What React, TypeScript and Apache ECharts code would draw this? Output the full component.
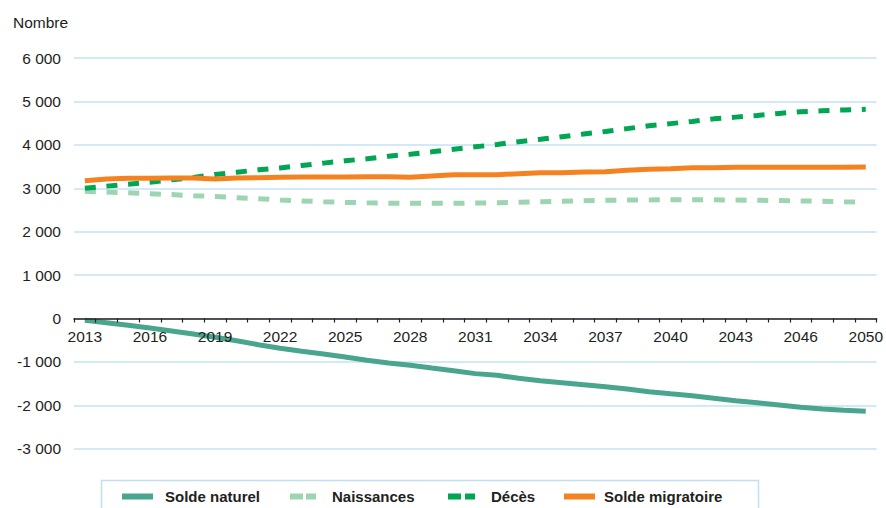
import React, { useEffect, useRef } from "react";
import * as echarts from "echarts";

const years = [
  "2013", "2014", "2015", "2016", "2017", "2018", "2019", "2020", "2021", "2022", "2023", "2024",
  "2025", "2026", "2027", "2028", "2029", "2030", "2031", "2032", "2033", "2034", "2035", "2036",
  "2037", "2038", "2039", "2040", "2041", "2042", "2043", "2044", "2045", "2046", "2047", "2048",
  "2050",
];

const soldeNaturel = [
  -40, -97, -157, -219, -288, -357, -433, -511, -603, -687, -756, -818,
  -887, -963, -1025, -1078, -1141, -1203, -1270, -1309, -1378, -1433, -1479, -1525,
  -1571, -1624, -1686, -1733, -1779, -1839, -1894, -1940, -1993, -2046, -2085, -2115,
  -2138,
];

const naissances = [
  2930, 2915, 2895, 2875, 2855, 2830, 2810, 2785, 2760, 2730, 2710, 2690,
  2675, 2665, 2658, 2654, 2654, 2655, 2660, 2668, 2676, 2690, 2700, 2712,
  2722, 2728, 2732, 2736, 2737, 2735, 2730, 2724, 2718, 2710, 2700, 2690,
  2682,
];

const deces = [
  3000, 3050, 3095, 3140, 3195, 3250, 3320, 3370, 3425, 3470, 3525, 3580,
  3635, 3680, 3740, 3785, 3840, 3900, 3955, 4010, 4075, 4130, 4190, 4250,
  4310, 4375, 4440, 4490, 4540, 4600, 4640, 4680, 4725, 4765, 4785, 4805,
  4820,
];

const soldeMigratoire = [
  3175, 3214, 3230, 3230, 3237, 3237, 3214, 3237, 3245, 3253, 3260, 3260,
  3260, 3267, 3267, 3253, 3283, 3313, 3313, 3313, 3336, 3359, 3359, 3375,
  3383, 3415, 3438, 3452, 3475, 3475, 3484, 3484, 3484, 3484, 3484, 3484,
  3491,
];

const seriesNames = ["Solde naturel", "Naissances", "Décès", "Solde migratoire"];

const FONT = "'Liberation Sans', Arial, Helvetica, sans-serif";
const TXT = "#231f20";
const C_NAT = "#4aa58f";
const C_NAI = "#9dd4b1";
const C_DEC = "#00a651";
const C_MIG = "#f58220";

function fmt(v: number): string {
  const s = Math.abs(v).toString().replace(/\B(?=(\d{3})+(?!\d))/g, " ");
  return (v < 0 ? "-" : "") + s;
}

export default function App() {
  const ref = useRef<HTMLDivElement>(null);
  useEffect(() => {
    if (!ref.current) return;
    const chart = echarts.init(ref.current, undefined, { renderer: "svg" });
    const legendText = { fontFamily: FONT, fontSize: 15, fontWeight: "bold" as const, color: TXT };
    const mkLegend = (name: string, left: number, w: number, pad: number, icon: string) => ({
      data: [{ name, icon }],
      left,
      top: 489,
      padding: 0,
      itemWidth: w,
      itemHeight: 6,
      symbolKeepAspect: false,
      textStyle: { ...legendText, padding: [0, 0, 0, pad] },
    });
    chart.setOption({
      animation: false,
      backgroundColor: "#ffffff",
      textStyle: { fontFamily: FONT },
      grid: { left: 74, right: 8.3, top: 58.1, bottom: 59.3, containLabel: false },
      legend: [
        mkLegend(seriesNames[0], 122, 31, 7, "rect"),
        mkLegend(seriesNames[1], 290, 26, 11, "path://M0,0H13V6H0Z M16,0H26V6H16Z"),
        mkLegend(seriesNames[2], 448, 27, 11, "path://M0,0H13V6H0Z M17,0H27V6H17Z"),
        mkLegend(seriesNames[3], 564, 31, 4, "rect"),
      ],
      graphic: [
        {
          type: "rect",
          shape: { x: 101.5, y: 480.5, width: 657, height: 40 },
          style: { fill: "none", stroke: "#bfe0f2", lineWidth: 1.5 },
          silent: true,
        },
      ],
      xAxis: {
        type: "category",
        data: years,
        boundaryGap: true,
        z: 5,
        offset: -130.2,
        axisLine: { onZero: false, lineStyle: { color: TXT, width: 1.5 } },
        axisTick: { show: true, interval: 0, length: 4, lineStyle: { color: TXT, width: 1.2 } },
        axisLabel: {
          interval: 2,
          margin: 10,
          fontFamily: FONT,
          fontSize: 15.5,
          color: TXT,
        },
        splitLine: { show: false },
      },
      yAxis: {
        type: "value",
        min: -3000,
        max: 6000,
        interval: 1000,
        name: "Nombre",
        nameLocation: "end",
        nameGap: 36,
        nameTextStyle: {
          fontFamily: FONT,
          fontSize: 15.5,
          color: TXT,
          align: "left",
          verticalAlign: "middle",
          padding: [0, 0, 0, -61],
        },
        axisLine: { show: false },
        axisTick: { show: false },
        axisLabel: {
          margin: 13,
          fontFamily: FONT,
          fontSize: 15.5,
          color: TXT,
          formatter: (v: number) => fmt(v),
        },
        splitLine: { lineStyle: { color: "#c6e2f3", width: 1.5 } },
      },
      series: [
        {
          name: seriesNames[0],
          type: "line",
          data: soldeNaturel,
          symbol: "none",
          z: 2,
          lineStyle: { color: C_NAT, width: 5 },
          itemStyle: { color: C_NAT },
        },
        {
          name: seriesNames[1],
          type: "line",
          data: naissances,
          symbol: "none",
          z: 2,
          lineStyle: { color: C_NAI, width: 5, type: [11, 10.7] },
          itemStyle: { color: C_NAI },
        },
        {
          name: seriesNames[2],
          type: "line",
          data: deces,
          symbol: "none",
          z: 2,
          lineStyle: { color: C_DEC, width: 5, type: [11, 10.7] },
          itemStyle: { color: C_DEC },
        },
        {
          name: seriesNames[3],
          type: "line",
          data: soldeMigratoire,
          symbol: "none",
          z: 2,
          lineStyle: { color: C_MIG, width: 5 },
          itemStyle: { color: C_MIG },
        },
      ],
    });
    return () => chart.dispose();
  }, []);
  return (
    <div
      ref={ref}
      style={{ position: "fixed", left: 0, top: 0, width: 886, height: 508, background: "#fff" }}
    />
  );
}
